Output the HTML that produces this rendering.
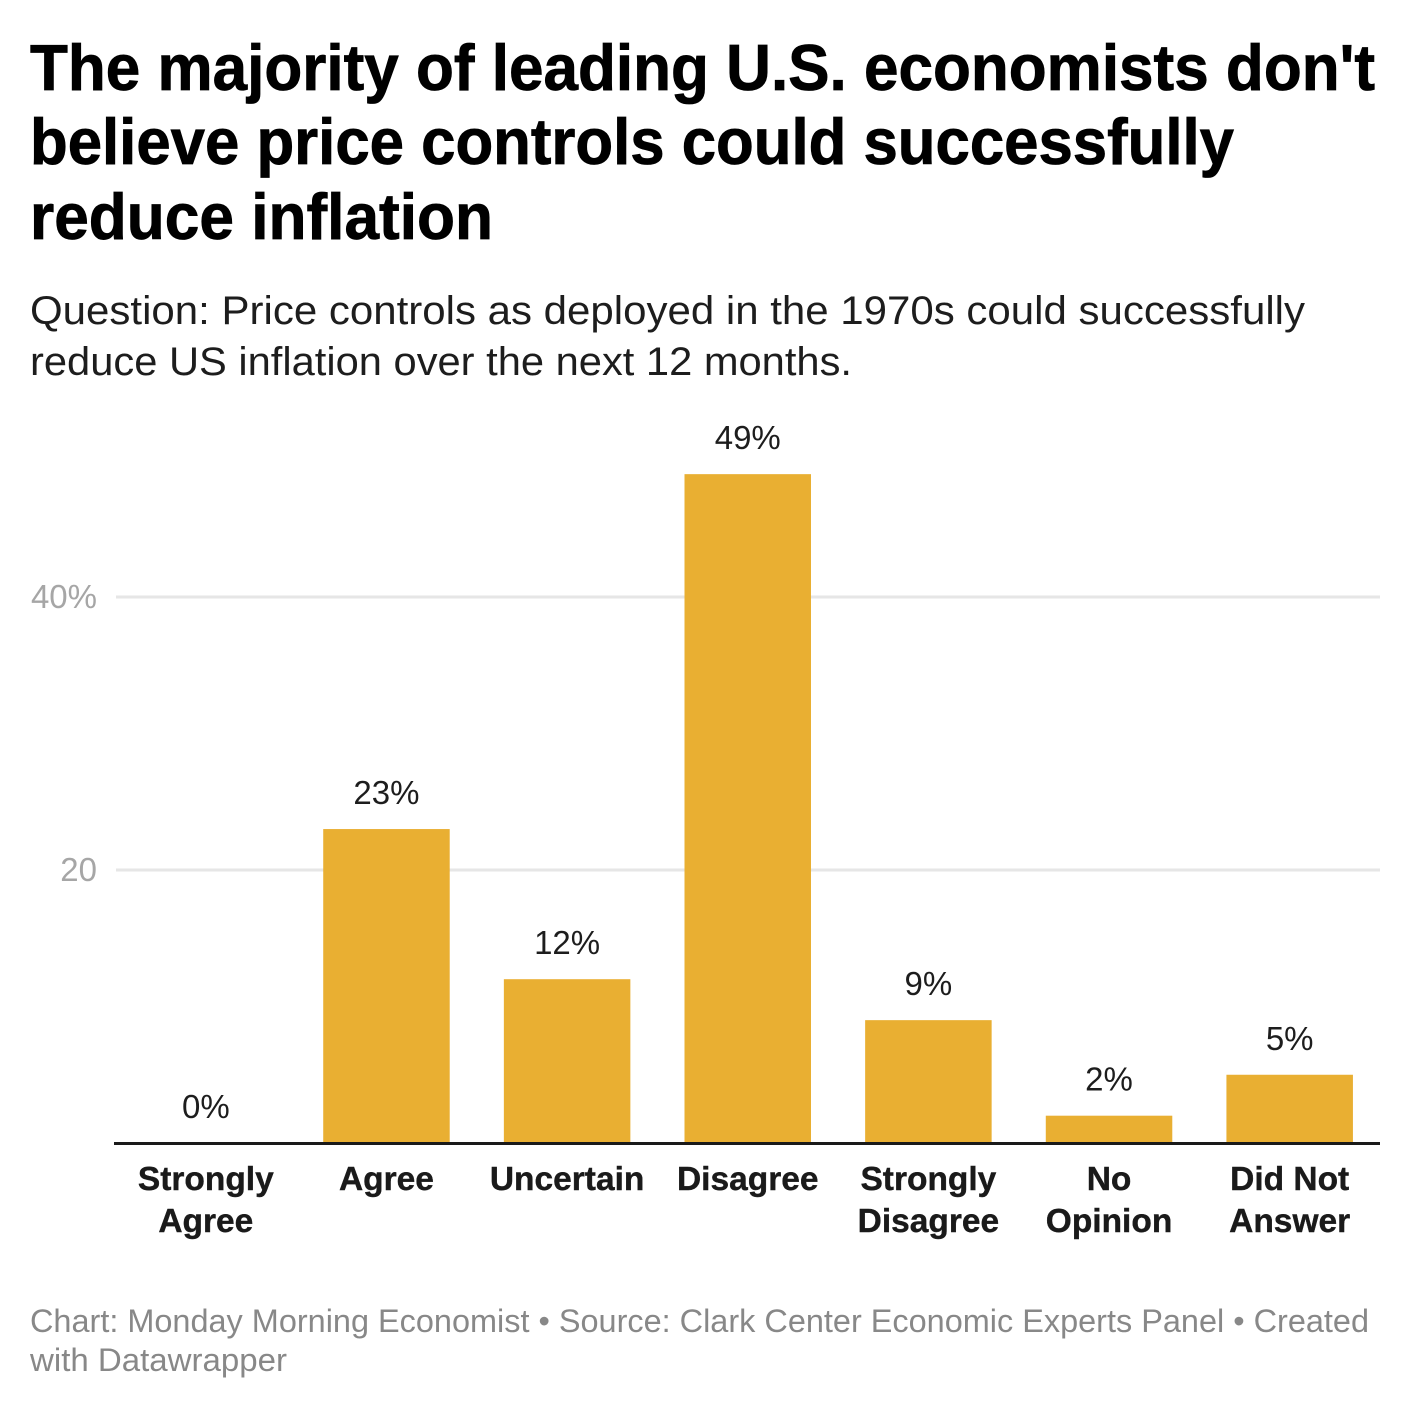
<!DOCTYPE html>
<html lang="en">
<head>
<meta charset="utf-8">
<title>Price controls chart</title>
<style>
  html, body { margin: 0; padding: 0; background: #ffffff; }
  svg { display: block; font-family: "Liberation Sans", Arial, sans-serif; }
  .title { font-size: 65px; font-weight: 700; fill: #000000; stroke: #000000; stroke-width: 0.8px; }
  .subtitle { font-size: 40px; fill: #1d1d1d; }
  .footer { font-size: 32px; fill: #888888; }
  .tick { font-size: 33px; fill: #a6a6a6; text-anchor: end; }
  .value { font-size: 33px; fill: #1d1d1d; text-anchor: middle; }
  .category { font-size: 33.5px; font-weight: 700; fill: #1a1a1a; stroke: #1a1a1a; stroke-width: 0.4px; text-anchor: middle; }
</style>
</head>
<body>
<svg id="chart" width="1410" height="1410" viewBox="0 0 1410 1410" xmlns="http://www.w3.org/2000/svg">
  <rect x="0" y="0" width="1410" height="1410" fill="#ffffff"/>
  <g>
    <text class="title" x="30" y="90" textLength="1345" lengthAdjust="spacingAndGlyphs">The majority of leading U.S. economists don't</text>
    <text class="title" x="30" y="164" textLength="1204" lengthAdjust="spacingAndGlyphs">believe price controls could successfully</text>
    <text class="title" x="30" y="239" textLength="463" lengthAdjust="spacingAndGlyphs">reduce inflation</text>
  </g>
  <g>
    <text class="subtitle" x="30" y="324" textLength="1275" lengthAdjust="spacingAndGlyphs">Question: Price controls as deployed in the 1970s could successfully</text>
    <text class="subtitle" x="30" y="375" textLength="822" lengthAdjust="spacingAndGlyphs">reduce US inflation over the next 12 months.</text>
  </g>
  <g id="gridlines"></g>
  <g id="y-ticks"></g>
  <g id="bars"></g>
  <g id="values"></g>
  <rect x="114" y="1142" width="1266" height="3" fill="#1a1a1a"/>
  <g id="categories"></g>
  <g>
    <text class="footer" x="30" y="1332" textLength="1339" lengthAdjust="spacingAndGlyphs">Chart: Monday Morning Economist • Source: Clark Center Economic Experts Panel • Created</text>
    <text class="footer" x="30" y="1371" textLength="257" lengthAdjust="spacingAndGlyphs">with Datawrapper</text>
  </g>
</svg>
<script>
const categories = [
  ['Strongly', 'Agree'],
  ['Agree'],
  ['Uncertain'],
  ['Disagree'],
  ['Strongly', 'Disagree'],
  ['No', 'Opinion'],
  ['Did Not', 'Answer']
];
const seriesValues = [0, 23, 12, 49, 9, 2, 5];
const tickValues = [20, 40];
const tickLabels = ['20', '40%'];

const SVG_NS = 'http://www.w3.org/2000/svg';
const plotLeft = 115.5;
const plotRight = 1380;
const baselineY = 1143;
const pxPerUnit = 13.65;
const bandWidth = (plotRight - plotLeft) / categories.length;
const barWidth = 126.5;

function yScale(v) { return baselineY - v * pxPerUnit; }
function xCenter(i) { return plotLeft + (i + 0.5) * bandWidth; }

function slug(s) { return s.toLowerCase().replace(/[^a-z0-9]+/g, '-'); }

const gridGroup = document.getElementById('gridlines');
const tickGroup = document.getElementById('y-ticks');
tickValues.forEach(function (t, i) {
  const line = document.createElementNS(SVG_NS, 'line');
  
  
  line.setAttribute('x1', 116);
  line.setAttribute('x2', plotRight);
  line.setAttribute('y1', yScale(t));
  line.setAttribute('y2', yScale(t));
  line.setAttribute('stroke', '#e6e6e6');
  line.setAttribute('stroke-width', 3);
  gridGroup.appendChild(line);

  const label = document.createElementNS(SVG_NS, 'text');
  
  
  label.setAttribute('class', 'tick');
  label.setAttribute('x', 97);
  label.setAttribute('y', yScale(t) + 11);
  label.textContent = tickLabels[i];
  tickGroup.appendChild(label);
});

const barGroup = document.getElementById('bars');
const valueGroup = document.getElementById('values');
const categoryGroup = document.getElementById('categories');
seriesValues.forEach(function (v, i) {
  const name = slug(categories[i].join(' '));
  const cx = xCenter(i);

  const bar = document.createElementNS(SVG_NS, 'rect');
  
  
  bar.setAttribute('x', cx - barWidth / 2);
  bar.setAttribute('y', yScale(v));
  bar.setAttribute('width', barWidth);
  bar.setAttribute('height', baselineY - yScale(v));
  bar.setAttribute('fill', '#e9af32');
  barGroup.appendChild(bar);

  const value = document.createElementNS(SVG_NS, 'text');
  
  
  value.setAttribute('class', 'value');
  value.setAttribute('x', cx);
  value.setAttribute('y', yScale(v) - 25);
  value.textContent = v + '%';
  valueGroup.appendChild(value);

  categories[i].forEach(function (lineText, j) {
    const cat = document.createElementNS(SVG_NS, 'text');
    
    
    cat.setAttribute('class', 'category');
    cat.setAttribute('x', cx);
    cat.setAttribute('y', 1190 + j * 42);
    cat.textContent = lineText;
    categoryGroup.appendChild(cat);
  });
});
</script>
</body>
</html>
